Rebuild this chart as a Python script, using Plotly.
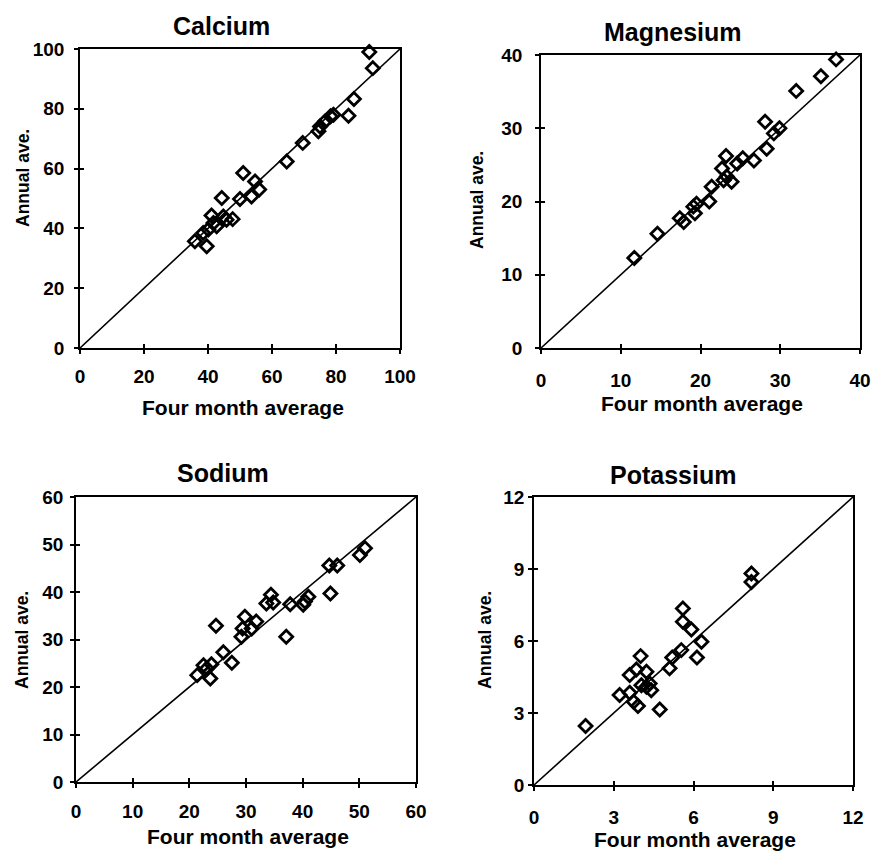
import plotly.graph_objects as go

# ---- data ----
ca_x = [90.4, 91.5, 85.6, 83.9, 79.2, 78.3, 76.6, 75.0, 74.5, 69.6, 64.6, 56.0, 53.6, 51.0, 54.7,
        50.0, 47.7, 44.3, 41.1, 38.5, 39.6, 35.9, 42.7, 44.8, 45.8, 40.1, 41.7]
ca_y = [99.0, 93.6, 83.3, 77.7, 78.0, 77.5, 75.8, 74.1, 72.5, 68.6, 62.4, 53.0, 50.7, 58.5, 55.7,
        49.8, 43.1, 50.2, 44.3, 38.5, 34.0, 35.7, 40.7, 44.0, 42.9, 39.6, 41.8]

mg_x = [37.0, 35.1, 32.0, 28.1, 29.9, 29.2, 28.3, 26.7, 25.3, 24.6, 23.2, 22.7, 23.3, 23.9, 22.9,
        21.4, 21.1, 19.5, 19.1, 19.3, 17.9, 17.4, 14.6, 11.7]
mg_y = [39.4, 37.1, 35.1, 30.9, 30.0, 29.3, 27.2, 25.6, 25.9, 25.2, 26.2, 24.5, 23.4, 22.7, 22.9,
        22.0, 20.0, 19.7, 19.3, 18.4, 17.2, 17.7, 15.6, 12.3]

na_x = [51.0, 50.1, 44.7, 46.1, 44.9, 41.0, 40.4, 40.1, 37.8, 37.1, 34.4, 33.6, 34.8, 29.8, 31.8,
        31.0, 29.4, 29.2, 24.7, 26.0, 27.5, 23.9, 22.5, 23.1, 21.4, 23.7]
na_y = [49.2, 47.8, 45.6, 45.6, 39.7, 39.0, 38.0, 37.3, 37.4, 30.6, 39.4, 37.6, 37.8, 34.8, 33.8,
        32.3, 32.3, 30.6, 32.9, 27.3, 25.1, 24.8, 24.6, 23.9, 22.5, 21.8]

k_x = [8.18, 8.18, 5.60, 5.60, 5.92, 6.30, 6.13, 5.54, 5.20, 5.10, 4.73, 4.01, 3.85, 3.60, 4.23,
       4.04, 4.35, 4.41, 4.23, 3.22, 3.60, 3.91, 3.75, 1.94]
k_y = [8.81, 8.46, 7.35, 6.80, 6.48, 5.97, 5.31, 5.62, 5.31, 4.86, 3.15, 5.37, 4.81, 4.58, 4.72,
       4.16, 4.23, 3.95, 4.09, 3.75, 3.84, 3.29, 3.47, 2.46]

titles = ["Calcium", "Magnesium", "Sodium", "Potassium"]
axis_max = [100, 40, 60, 12]
tick_step = [20, 10, 10, 3]
xs = [ca_x, mg_x, na_x, k_x]
ys = [ca_y, mg_y, na_y, k_y]

W, H = 873, 853
# plot boxes in screen pixels: (left, right, top, bottom)
boxes = [(80, 400, 49, 348), (541, 860, 55, 348), (76, 416, 497, 782), (534, 853, 497, 785)]
title_pos = [(221, 26), (673, 32), (223, 473), (673, 475)]
xtitle_pos = [(243, 407), (702, 404), (248, 836), (695, 839)]
ytitle_pos = [(23, 178), (477, 200), (22, 640), (485, 640)]
x_standoff = [6, 10, 7, 10]
y_standoff = [6, 9, 3, 0]


def px(v):
    return v / W


def py(v):
    return 1 - v / H


FONT = "Liberation Sans"
fig = go.Figure()
layout = dict(width=W, height=H, margin=dict(l=0, r=0, t=0, b=0),
              plot_bgcolor="white", paper_bgcolor="white", showlegend=False,
              font=dict(family=FONT, color="black"))
annotations = []

for i in range(4):
    n = i + 1
    sx = "" if n == 1 else str(n)
    L, R, T, B = boxes[i]
    xd = [px(L), px(R)]
    yd = [py(B), py(T)]
    m = axis_max[i]
    tv = list(range(0, m + 1, tick_step[i]))
    fig.add_trace(go.Scatter(x=[0, m], y=[0, m], mode="lines",
                             line=dict(color="black", width=1.6),
                             xaxis="x" + sx, yaxis="y" + sx, hoverinfo="skip"))
    fig.add_trace(go.Scatter(x=xs[i], y=ys[i], mode="markers",
                             marker=dict(symbol="diamond-open", size=10, color="black",
                                         line=dict(width=2.8, color="black")),
                             xaxis="x" + sx, yaxis="y" + sx, cliponaxis=False))
    common = dict(range=[0, m], showgrid=False, zeroline=False, showline=True,
                  linecolor="black", linewidth=1.6, mirror=True, automargin=False,
                  ticks="outside", ticklen=4, tickwidth=1.6, tickcolor="black",
                  tickvals=tv, tickfont=dict(family=FONT, size=19, weight="bold", color="black"))
    layout["xaxis" + sx] = dict(common, domain=xd, anchor="y" + sx,
                                ticklabelstandoff=x_standoff[i])
    layout["yaxis" + sx] = dict(common, domain=yd, anchor="x" + sx,
                                ticklabelstandoff=y_standoff[i])
    # inner halves of the crossing ticks
    no = str(n + 4)
    inner = dict(range=[0, m], tickvals=tv, ticks="inside", ticklen=4, tickwidth=1.6,
                 tickcolor="black", showticklabels=False, showgrid=False,
                 zeroline=False, showline=False, automargin=False)
    layout["xaxis" + no] = dict(inner, domain=xd, anchor="y" + sx, overlaying="x" + sx)
    layout["yaxis" + no] = dict(inner, domain=yd, anchor="x" + sx, overlaying="y" + sx)
    fig.add_trace(go.Scatter(x=[None], y=[None], xaxis="x" + no, yaxis="y" + no,
                             mode="markers", hoverinfo="skip"))
    tx, ty = title_pos[i]
    annotations.append(dict(text="<b>" + titles[i] + "</b>", x=px(tx), y=py(ty),
                            xanchor="center", yanchor="middle",
                            xref="paper", yref="paper", showarrow=False,
                            font=dict(family=FONT, size=25, color="black")))
    ax_, ay_ = xtitle_pos[i]
    annotations.append(dict(text="<b>Four month average</b>", x=px(ax_), y=py(ay_),
                            xanchor="center", yanchor="middle",
                            xref="paper", yref="paper", showarrow=False,
                            font=dict(family=FONT, size=21, color="black")))
    bx, by = ytitle_pos[i]
    annotations.append(dict(text="<b>Annual ave.</b>", x=px(bx), y=py(by), textangle=-90,
                            xanchor="center", yanchor="middle",
                            xref="paper", yref="paper", showarrow=False,
                            font=dict(family=FONT, size=17.5, color="black")))

layout["annotations"] = annotations
fig.update_layout(**layout)
fig.write_html("out.html", config={"displayModeBar": False},
               post_script="document.body.style.margin='0';"
                           "document.body.style.overflow='hidden';")
